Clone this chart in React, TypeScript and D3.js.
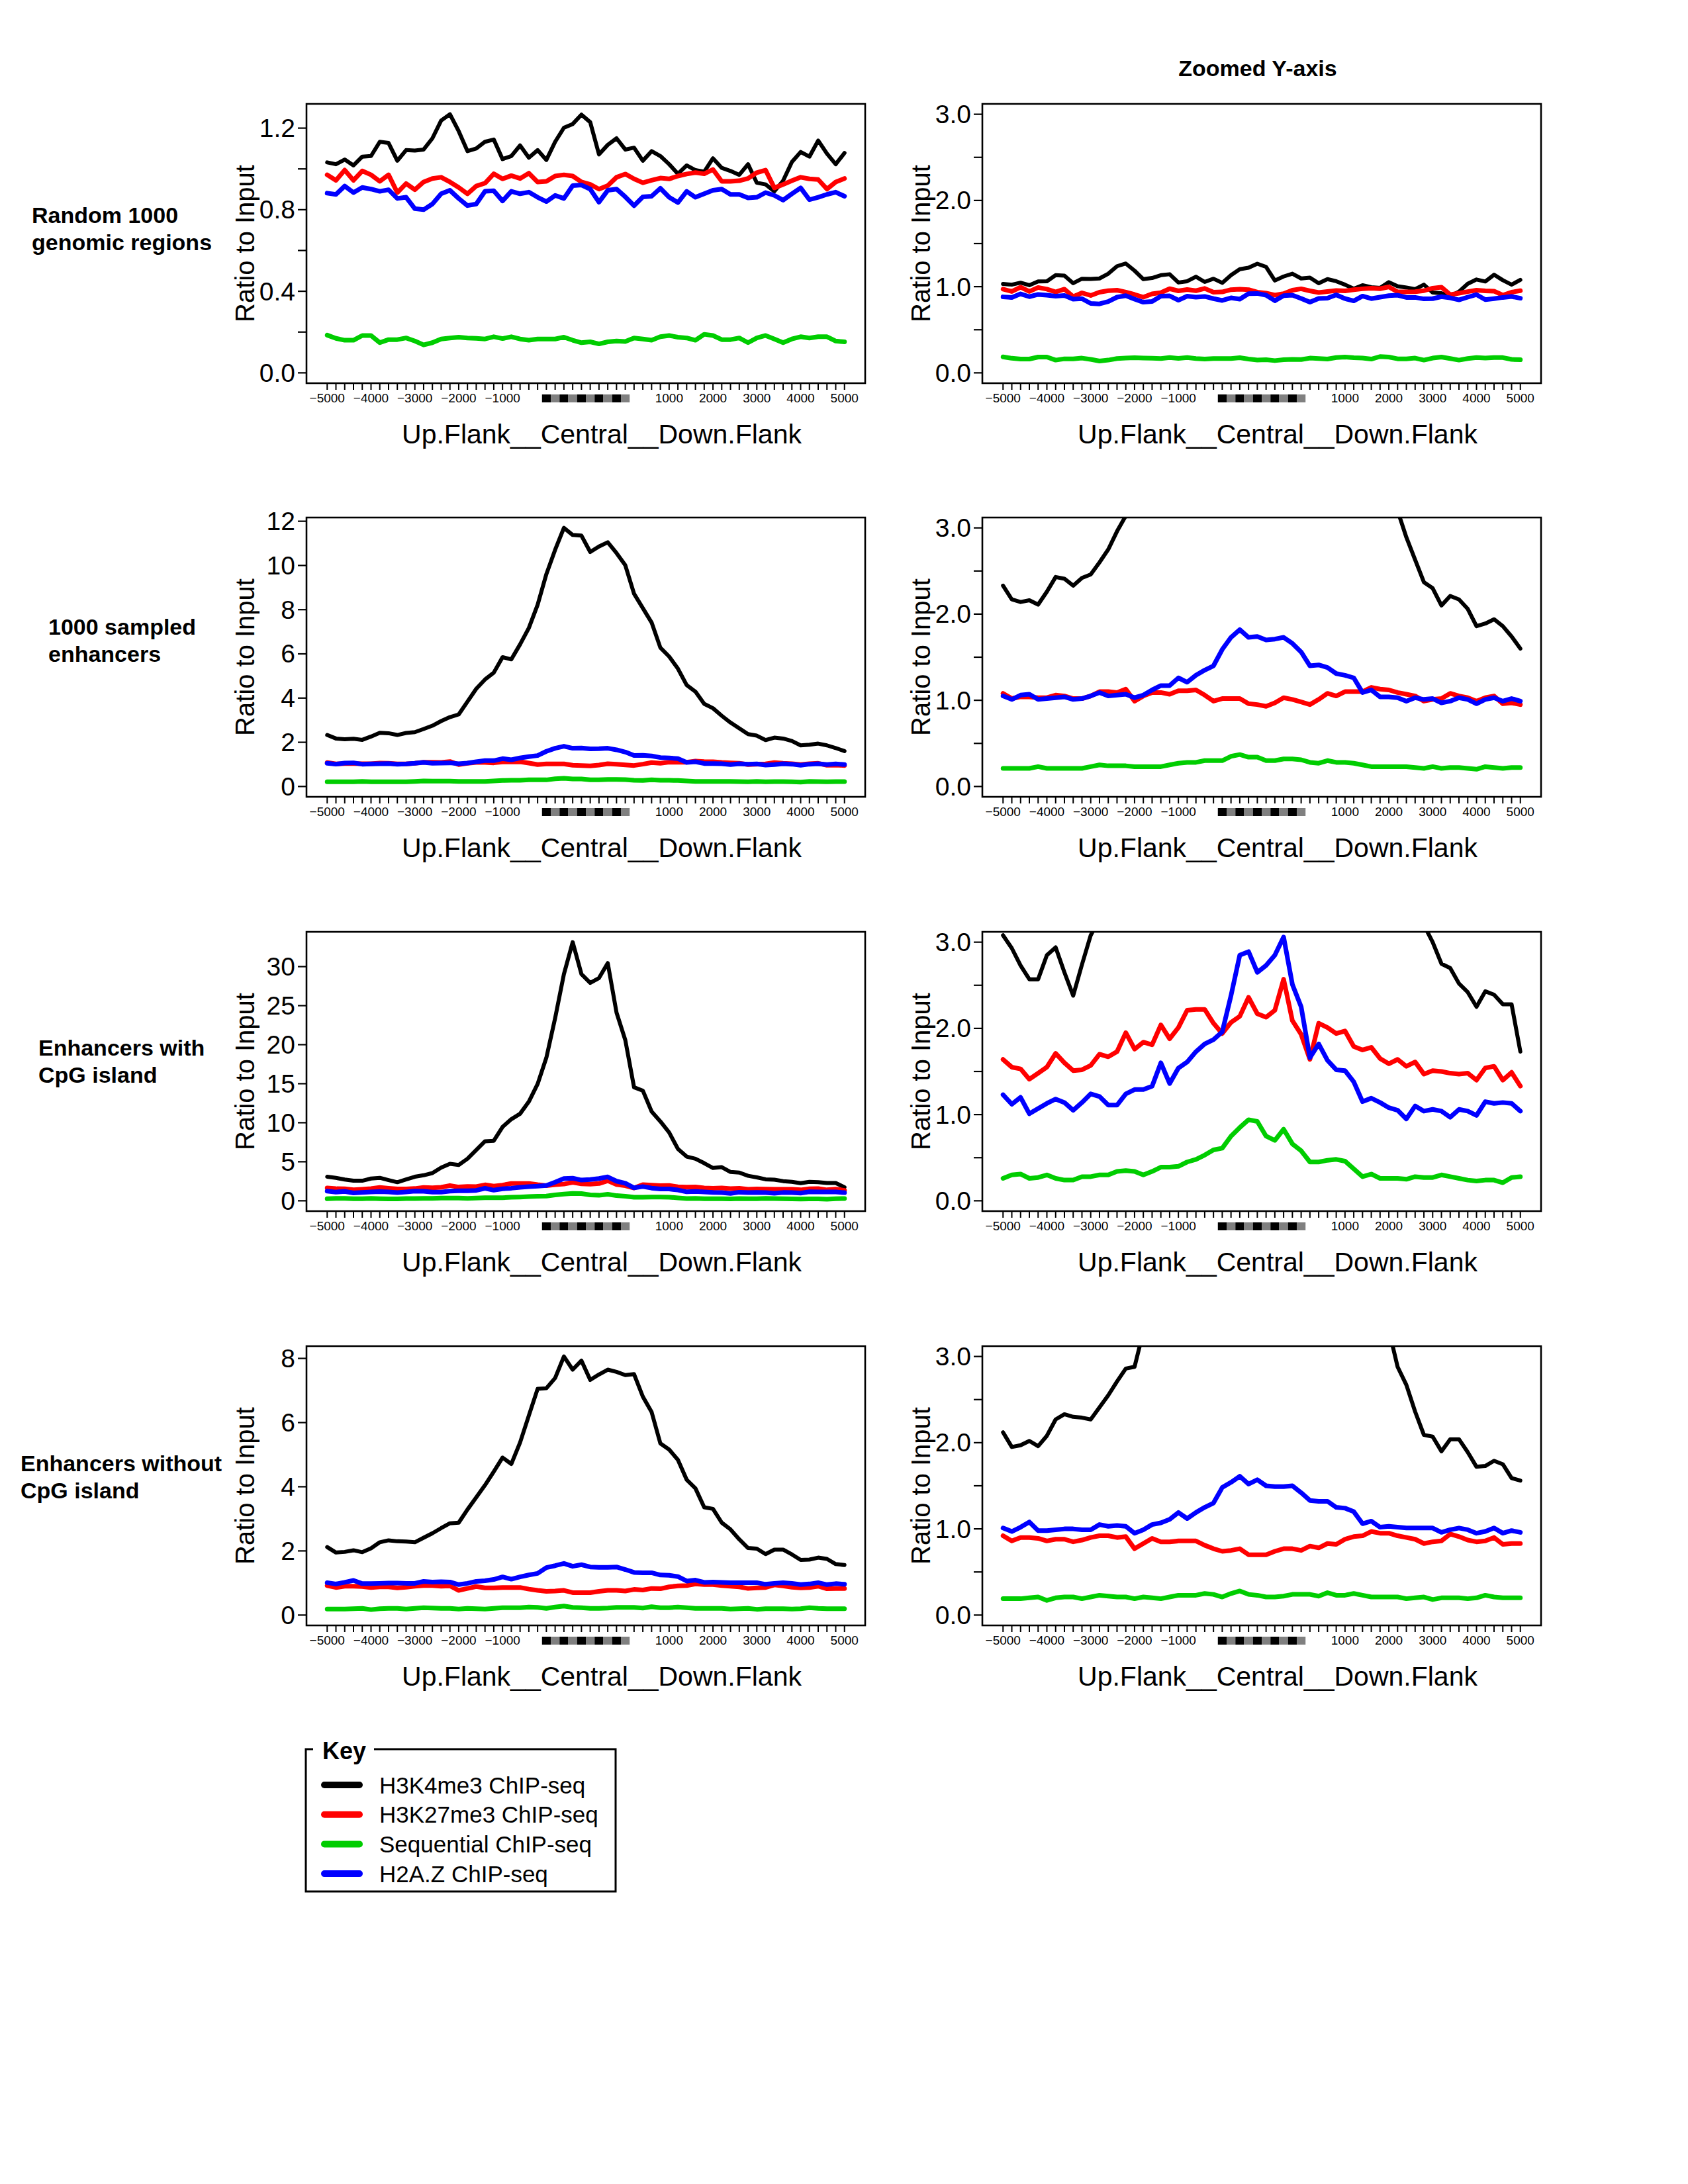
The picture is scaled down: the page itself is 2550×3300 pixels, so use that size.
import React from "react";
import * as d3 from "d3";

const W = 2550;
const H = 3300;
const N = 60;
const FONT = "'Liberation Sans', Arial, Helvetica, sans-serif";

// ---------- Data: Random 1000 genomic regions ----------
const random_H3K4me3 = [1.032,1.023,1.046,1.017,1.060,1.063,1.133,1.127,1.040,1.092,1.09,1.095,1.150,1.237,1.268,1.185,1.087,1.10,1.133,1.144,1.048,1.063,1.115,1.055,1.092,1.044,1.133,1.202,1.22,1.266,1.229,1.071,1.118,1.150,1.095,1.104,1.040,1.087,1.063,1.023,0.976,1.017,0.994,0.986,1.052,1.005,0.99,0.971,1.023,0.932,0.924,0.89,0.942,1.034,1.083,1.06,1.139,1.075,1.023,1.078];
const random_H3K27me3 = [0.971,0.944,0.994,0.944,0.99,0.971,0.939,0.971,0.884,0.928,0.898,0.936,0.953,0.959,0.936,0.909,0.878,0.916,0.93,0.976,0.951,0.967,0.953,0.979,0.936,0.939,0.965,0.971,0.965,0.936,0.924,0.901,0.918,0.959,0.975,0.951,0.932,0.944,0.955,0.951,0.965,0.975,0.982,0.976,0.997,0.939,0.939,0.942,0.953,0.982,0.994,0.907,0.924,0.942,0.959,0.951,0.948,0.901,0.936,0.953];
const random_Sequential = [0.185,0.169,0.16,0.16,0.183,0.183,0.148,0.163,0.163,0.171,0.156,0.137,0.148,0.166,0.171,0.175,0.171,0.169,0.166,0.177,0.168,0.177,0.166,0.16,0.166,0.166,0.166,0.175,0.16,0.148,0.152,0.142,0.152,0.156,0.154,0.171,0.166,0.16,0.177,0.183,0.175,0.171,0.16,0.189,0.183,0.163,0.163,0.171,0.148,0.171,0.183,0.166,0.148,0.166,0.177,0.171,0.177,0.177,0.156,0.152];
const random_H2AZ = [0.881,0.875,0.916,0.884,0.909,0.901,0.89,0.898,0.855,0.861,0.805,0.80,0.828,0.878,0.895,0.855,0.82,0.828,0.89,0.893,0.843,0.89,0.878,0.886,0.861,0.84,0.87,0.855,0.918,0.921,0.901,0.837,0.895,0.901,0.863,0.82,0.863,0.866,0.905,0.861,0.835,0.89,0.861,0.878,0.895,0.901,0.875,0.875,0.858,0.861,0.884,0.87,0.847,0.878,0.907,0.849,0.861,0.875,0.886,0.866];

// ---------- Data: 1000 sampled enhancers ----------
const sampled_H3K4me3 = [2.33,2.17,2.14,2.16,2.11,2.26,2.43,2.41,2.33,2.42,2.46,2.60,2.75,2.96,3.14,3.26,3.84,4.42,4.84,5.15,5.85,5.75,6.43,7.17,8.22,9.61,10.71,11.70,11.38,11.35,10.61,10.86,11.05,10.56,10.01,8.72,8.07,7.42,6.28,5.88,5.33,4.59,4.29,3.74,3.54,3.20,2.89,2.63,2.37,2.30,2.10,2.21,2.17,2.06,1.86,1.89,1.94,1.86,1.74,1.60];
const sampled_H3K27me3 = [1.08,1.02,1.04,1.04,1.03,1.03,1.06,1.05,1.02,1.02,1.05,1.10,1.10,1.09,1.13,0.99,1.05,1.09,1.09,1.07,1.11,1.11,1.12,1.06,0.99,1.02,1.02,1.02,0.96,0.95,0.93,0.97,1.03,1.01,0.98,0.95,1.01,1.08,1.05,1.10,1.10,1.10,1.15,1.13,1.12,1.09,1.07,1.05,0.99,1.01,1.02,1.08,1.05,1.03,0.99,1.03,1.05,0.96,0.97,0.95];
const sampled_Sequential = [0.21,0.21,0.21,0.21,0.23,0.21,0.21,0.21,0.21,0.21,0.23,0.25,0.24,0.24,0.24,0.23,0.23,0.23,0.23,0.25,0.27,0.28,0.28,0.30,0.30,0.30,0.35,0.37,0.34,0.34,0.30,0.30,0.32,0.32,0.31,0.28,0.27,0.30,0.28,0.28,0.27,0.25,0.23,0.23,0.23,0.23,0.23,0.22,0.21,0.23,0.21,0.22,0.22,0.21,0.20,0.23,0.22,0.21,0.22,0.22];
const sampled_H2AZ = [1.05,1.01,1.06,1.07,1.01,1.02,1.03,1.04,1.01,1.02,1.05,1.09,1.05,1.06,1.07,1.03,1.06,1.12,1.17,1.17,1.26,1.21,1.29,1.35,1.40,1.59,1.73,1.82,1.73,1.74,1.70,1.71,1.73,1.66,1.56,1.40,1.41,1.38,1.31,1.29,1.26,1.09,1.12,1.04,1.04,1.03,0.99,1.03,1.01,1.02,0.97,0.99,1.03,1.01,0.96,1.01,1.03,0.99,1.02,0.99];

// ---------- Data: Enhancers with CpG island ----------
const withCpG_H3K4me3 = [3.08,2.93,2.73,2.57,2.57,2.85,2.94,2.65,2.38,2.74,3.08,3.27,3.55,4.25,4.73,4.59,5.38,6.51,7.63,7.69,9.46,10.45,11.15,12.70,14.96,18.34,23.41,29.04,33.13,29.04,27.92,28.54,30.45,24.11,20.59,14.54,14.11,11.44,10.17,8.76,6.65,5.66,5.38,4.82,4.20,4.31,3.69,3.61,3.20,3.00,2.75,2.70,2.52,2.42,2.25,2.43,2.39,2.28,2.28,1.73];
const withCpG_H3K27me3 = [1.64,1.55,1.53,1.41,1.48,1.55,1.71,1.60,1.51,1.52,1.57,1.70,1.67,1.73,1.95,1.76,1.84,1.81,2.04,1.88,2.01,2.21,2.22,2.22,2.06,1.94,2.07,2.14,2.36,2.17,2.13,2.21,2.57,2.09,1.93,1.64,2.06,2.01,1.94,1.97,1.79,1.75,1.78,1.65,1.59,1.64,1.56,1.61,1.47,1.51,1.50,1.48,1.47,1.48,1.40,1.54,1.56,1.40,1.49,1.33];
const withCpG_Sequential = [0.26,0.30,0.31,0.26,0.27,0.30,0.26,0.24,0.24,0.28,0.28,0.30,0.30,0.34,0.35,0.34,0.30,0.34,0.39,0.39,0.40,0.45,0.48,0.53,0.59,0.61,0.75,0.85,0.94,0.92,0.75,0.70,0.83,0.66,0.58,0.45,0.45,0.47,0.48,0.46,0.37,0.28,0.31,0.26,0.26,0.26,0.25,0.28,0.27,0.27,0.30,0.28,0.26,0.24,0.23,0.24,0.24,0.21,0.27,0.28];
const withCpG_H2AZ = [1.23,1.12,1.20,1.01,1.07,1.13,1.18,1.14,1.05,1.14,1.24,1.21,1.11,1.11,1.24,1.29,1.29,1.33,1.60,1.36,1.54,1.61,1.73,1.82,1.87,1.96,2.38,2.85,2.89,2.65,2.73,2.85,3.06,2.51,2.25,1.66,1.82,1.63,1.52,1.51,1.38,1.15,1.19,1.14,1.08,1.05,0.95,1.10,1.04,1.06,1.04,0.97,1.06,1.04,0.99,1.15,1.13,1.14,1.13,1.04];

// ---------- Data: Enhancers without CpG island ----------
const withoutCpG_H3K4me3 = [2.12,1.95,1.97,2.02,1.96,2.08,2.27,2.33,2.30,2.29,2.27,2.41,2.55,2.71,2.86,2.88,3.29,3.67,4.05,4.47,4.91,4.71,5.38,6.22,7.05,7.07,7.39,8.06,7.65,7.93,7.33,7.50,7.65,7.58,7.48,7.51,6.81,6.33,5.35,5.16,4.84,4.22,3.95,3.36,3.31,2.88,2.67,2.36,2.09,2.07,1.90,2.04,2.04,1.89,1.72,1.73,1.79,1.75,1.59,1.56];
const withoutCpG_H3K27me3 = [0.92,0.86,0.90,0.90,0.89,0.86,0.88,0.88,0.85,0.87,0.90,0.92,0.92,0.90,0.91,0.77,0.83,0.89,0.85,0.85,0.86,0.86,0.86,0.81,0.77,0.74,0.75,0.77,0.70,0.70,0.70,0.74,0.77,0.77,0.75,0.80,0.78,0.83,0.82,0.88,0.91,0.92,0.97,0.95,0.95,0.92,0.90,0.88,0.83,0.85,0.86,0.94,0.91,0.87,0.85,0.86,0.90,0.82,0.83,0.83];
const withoutCpG_Sequential = [0.19,0.19,0.19,0.20,0.21,0.17,0.20,0.21,0.21,0.19,0.21,0.23,0.22,0.21,0.21,0.19,0.21,0.20,0.19,0.21,0.23,0.23,0.23,0.25,0.24,0.21,0.25,0.28,0.24,0.23,0.21,0.21,0.22,0.24,0.24,0.24,0.22,0.26,0.23,0.23,0.25,0.23,0.21,0.21,0.21,0.21,0.19,0.20,0.21,0.18,0.20,0.20,0.20,0.19,0.20,0.23,0.21,0.20,0.20,0.20];
const withoutCpG_H2AZ = [1.01,0.97,1.02,1.08,0.98,0.98,0.99,1.00,1.00,0.99,0.99,1.05,1.03,1.04,1.03,0.95,0.99,1.05,1.07,1.11,1.19,1.12,1.19,1.25,1.30,1.48,1.54,1.61,1.52,1.57,1.50,1.49,1.49,1.50,1.42,1.33,1.32,1.32,1.25,1.24,1.20,1.06,1.09,1.02,1.03,1.02,1.01,1.01,1.01,1.01,0.96,0.99,1.01,0.99,0.95,0.97,1.01,0.95,0.98,0.96];

// ---------- Labels / ticks ----------
const SERIES_NAMES = ["H3K4me3 ChIP-seq", "H3K27me3 ChIP-seq", "Sequential ChIP-seq", "H2A.Z ChIP-seq"];
const SERIES_COLORS = ["#000000", "#ff0000", "#00cd00", "#0000ff"];
const ROW_LABELS = [
  ["Random 1000", "genomic regions"],
  ["1000 sampled", "enhancers"],
  ["Enhancers with", "CpG island"],
  ["Enhancers without", "CpG island"],
];
const LEFT_TICKS = [
  [0, 0.2, 0.4, 0.6, 0.8, 1.0, 1.2],
  [0, 2, 4, 6, 8, 10, 12],
  [0, 5, 10, 15, 20, 25, 30],
  [0, 2, 4, 6, 8],
];
const LEFT_TICK_LABELS = [
  [0, 0.4, 0.8, 1.2],
  [0, 2, 4, 6, 8, 10, 12],
  [0, 5, 10, 15, 20, 25, 30],
  [0, 2, 4, 6, 8],
];
const LEFT_FORMATS = [".1f", "d", "d", "d"];
const ZOOM_MAX = 3;
const ZOOM_TICKS = [0, 0.5, 1, 1.5, 2, 2.5, 3];
const ZOOM_TICK_LABELS = [0, 1, 2, 3];
const X_LABEL_INDEX = [0, 5, 10, 15, 20, 39, 44, 49, 54, 59];
const X_LABEL_TEXT = ["\u22125000", "\u22124000", "\u22123000", "\u22122000", "\u22121000", "1000", "2000", "3000", "4000", "5000"];
const CENTRAL_BINS = d3.range(25, 35);
const Y_TITLE = "Ratio to Input";
const X_TITLE = "Up.Flank__Central__Down.Flank";
const ZOOM_TITLE = "Zoomed Y-axis";
const KEY_TITLE = "Key";

// ---------- Layout ----------
const FRAME_W = 844;
const FRAME_H = 422;
const COL_X = [463, 1484];
const ROW_Y = [157, 782, 1408, 2034];
const ROW_LABEL_X = [48, 73, 58, 31];
const ROW_LABEL_DY = [180, 177, 187, 189];
const LINE_WIDTHS = [6, 7, 7, 7];

const ROWS = [
  [random_H3K4me3, random_H3K27me3, random_Sequential, random_H2AZ],
  [sampled_H3K4me3, sampled_H3K27me3, sampled_Sequential, sampled_H2AZ],
  [withCpG_H3K4me3, withCpG_H3K27me3, withCpG_Sequential, withCpG_H2AZ],
  [withoutCpG_H3K4me3, withoutCpG_H3K27me3, withoutCpG_Sequential, withoutCpG_H2AZ],
];

type PanelProps = {
  id: string;
  x0: number;
  y0: number;
  series: number[][];
  ymax: number;
  ticks: number[];
  tickLabels: number[];
  fmt: string;
};

function Panel({ id, x0, y0, series, ymax, ticks, tickLabels, fmt }: PanelProps) {
  const xs = d3.scaleLinear().domain([-0.04 * (N - 1), (N - 1) * 1.04]).range([x0, x0 + FRAME_W]);
  const ys = d3.scaleLinear().domain([-0.04 * ymax, 1.04 * ymax]).range([y0 + FRAME_H, y0]);
  const line = d3
    .line<number>()
    .x((_, i) => xs(i))
    .y((d) => ys(d));
  const f = d3.format(fmt);
  const bottom = y0 + FRAME_H;
  return (
    <g>
      <defs>
        <clipPath id={id}>
          <rect x={x0} y={y0} width={FRAME_W} height={FRAME_H} />
        </clipPath>
      </defs>
      <g clipPath={`url(#${id})`}>
        {series.map((s, k) => (
          <path
            key={k}
            d={line(s) || ""}
            fill="none"
            stroke={SERIES_COLORS[k]}
            strokeWidth={LINE_WIDTHS[k]}
            strokeLinejoin="round"
            strokeLinecap="round"
          />
        ))}
      </g>
      <rect x={x0} y={y0} width={FRAME_W} height={FRAME_H} fill="none" stroke="#000" strokeWidth={2.6} />
      {/* y axis */}
      {ticks.map((t) => (
        <line key={t} x1={x0 - 13} x2={x0} y1={ys(t)} y2={ys(t)} stroke="#000" strokeWidth={2.2} />
      ))}
      {tickLabels.map((t) => (
        <text
          key={t}
          x={x0 - 17}
          y={ys(t)}
          textAnchor="end"
          dominantBaseline="central"
          fontSize={39}
          fontFamily={FONT}
        >
          {f(t)}
        </text>
      ))}
      <text
        transform={`translate(${x0 - 93},${y0 + FRAME_H / 2}) rotate(-90)`}
        textAnchor="middle"
        dominantBaseline="central"
        fontSize={40}
        fontFamily={FONT}
      >
        {Y_TITLE}
      </text>
      {/* x axis */}
      {d3.range(N).map((i) => (
        <line key={i} x1={xs(i)} x2={xs(i)} y1={bottom + 1} y2={bottom + 10} stroke="#000" strokeWidth={2} />
      ))}
      {X_LABEL_INDEX.map((i, k) => (
        <text
          key={i}
          x={xs(i)}
          y={bottom + 22}
          textAnchor="middle"
          dominantBaseline="central"
          fontSize={19}
          fontFamily={FONT}
        >
          {X_LABEL_TEXT[k]}
        </text>
      ))}
      {CENTRAL_BINS.map((b, k) => (
        <rect
          key={b}
          x={xs(b - 0.5)}
          y={bottom + 17}
          width={xs(b + 0.5) - xs(b - 0.5)}
          height={12}
          fill={k % 2 === 0 ? "#000000" : "#808080"}
        />
      ))}
      <text
        x={x0 + FRAME_W / 2 + 24}
        y={bottom + 91}
        textAnchor="middle"
        fontSize={41}
        fontFamily={FONT}
      >
        {X_TITLE}
      </text>
    </g>
  );
}

function Legend() {
  const x0 = 462;
  const y0 = 2643;
  const x1 = 930;
  const y1 = 2858;
  const rowY = d3.range(SERIES_NAMES.length).map((k) => 2697 + k * 44.7);
  return (
    <g>
      <path
        d={`M${473},${y0} L${x0},${y0} L${x0},${y1} L${x1},${y1} L${x1},${y0} L${565},${y0}`}
        fill="none"
        stroke="#000"
        strokeWidth={3}
      />
      <text x={487} y={2658} fontSize={36} fontWeight="bold" fontFamily={FONT}>
        {KEY_TITLE}
      </text>
      {SERIES_NAMES.map((name, k) => (
        <g key={name}>
          <line
            x1={490}
            x2={543}
            y1={rowY[k]}
            y2={rowY[k]}
            stroke={SERIES_COLORS[k]}
            strokeWidth={10}
            strokeLinecap="round"
          />
          <text x={573} y={rowY[k]} dominantBaseline="central" fontSize={35} fontFamily={FONT}>
            {name}
          </text>
        </g>
      ))}
    </g>
  );
}

export default function App() {
  return (
    <svg
      width={W}
      height={H}
      viewBox={`0 0 ${W} ${H}`}
      style={{ position: "absolute", left: 0, top: 0, background: "#fff" }}
    >
      <rect x={0} y={0} width={W} height={H} fill="#fff" />
      <text
        x={1900}
        y={103}
        textAnchor="middle"
        dominantBaseline="central"
        fontSize={34}
        fontWeight="bold"
        fontFamily={FONT}
      >
        {ZOOM_TITLE}
      </text>
      {ROWS.map((series, r) => {
        const ymax = d3.max(series.flat()) as number;
        return (
          <g key={r}>
            {ROW_LABELS[r].map((ln, j) => (
              <text
                key={j}
                x={ROW_LABEL_X[r]}
                y={ROW_Y[r] + ROW_LABEL_DY[r] + j * 41}
                fontSize={34}
                fontWeight="bold"
                fontFamily={FONT}
              >
                {ln}
              </text>
            ))}
            <Panel
              id={`clipL${r}`}
              x0={COL_X[0]}
              y0={ROW_Y[r]}
              series={series}
              ymax={ymax}
              ticks={LEFT_TICKS[r]}
              tickLabels={LEFT_TICK_LABELS[r]}
              fmt={LEFT_FORMATS[r]}
            />
            <Panel
              id={`clipR${r}`}
              x0={COL_X[1]}
              y0={ROW_Y[r]}
              series={series}
              ymax={ZOOM_MAX}
              ticks={ZOOM_TICKS}
              tickLabels={ZOOM_TICK_LABELS}
              fmt=".1f"
            />
          </g>
        );
      })}
      <Legend />
    </svg>
  );
}
